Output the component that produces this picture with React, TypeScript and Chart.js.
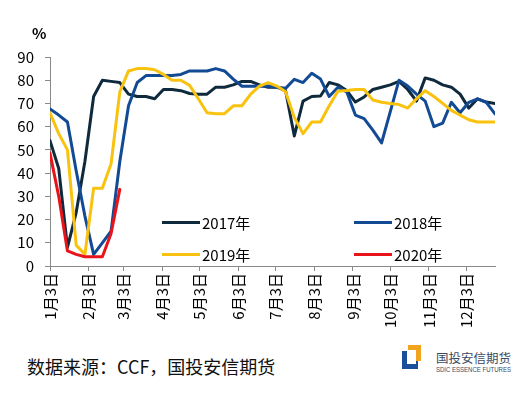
import React, { useEffect, useRef } from "react";
import { Chart, registerables } from "chart.js";

Chart.register(...registerables);

const FONT = '"Noto Sans CJK SC", "DejaVu Sans", sans-serif';

// weekly observations, starting 1月3日
const s2017 = [54, 42, 8, 23, 45, 73, 80, 79.5, 79, 74, 73, 73, 72, 76, 76, 75.5, 74.3, 74, 74, 77, 77, 78, 79.5, 79.5, 78, 77, 77, 75.5, 56, 71, 73, 73.2, 79, 78, 75.6, 70.6, 72.8, 76, 77, 78, 79.5, 76, 71, 81, 80, 78, 77, 74, 68, 72, 70.6, 70];
const s2018 = [67.6, 65, 62, 41, 21.5, 5, 10, 15, 45, 69, 79, 82, 82, 82, 82, 82.5, 84, 84, 84, 85, 84, 80.5, 77.4, 77.4, 77.4, 77.5, 77, 76.5, 80.4, 79, 83, 80.5, 73, 77, 75, 65, 63.5, 58.5, 53, 66.5, 80, 77.5, 74, 71, 60, 61.5, 70.5, 66, 70.5, 72, 70.5, 65.5];
const s2019 = [66, 57, 50, 9, 5, 33.5, 33.5, 44, 75, 84, 85, 85, 84.5, 82.5, 80, 80, 77.8, 72, 66, 65.6, 65.6, 69, 69, 74, 77.5, 79, 77.5, 75, 64, 57, 62, 62, 69, 75.3, 75.6, 76, 76, 71.5, 70.5, 70, 69.5, 68, 72, 75.5, 73, 70, 67, 65, 63, 62, 62, 62];
const s2020 = [48.6, 30, 6.5, 5, 4, 4, 4, 14, 33];

const tickLabels = ["1月3日", "2月3日", "3月3日", "4月3日", "5月3日", "6月3日", "7月3日", "8月3日", "9月3日", "10月3日", "11月3日", "12月3日"];
const tickDays = [0, 31, 59, 90, 120, 151, 181, 212, 243, 273, 304, 334];

const C17 = "#0f2a3d";
const C18 = "#124a93";
const C19 = "#f8c20f";
const C20 = "#e8141a";
const AXIS = "#898989";

const legendItems = [
  { label: "2017年", color: C17, x: 162, y: 222 },
  { label: "2018年", color: C18, x: 354, y: 222 },
  { label: "2019年", color: C19, x: 162, y: 254 },
  { label: "2020年", color: C20, x: 354, y: 254 },
];

export default function App() {
  const ref = useRef<HTMLCanvasElement>(null);

  useEffect(() => {
    const mk = (vals: number[]) => vals.map((v, i) => ({ x: i * 7, y: v }));
    const ds = (label: string, vals: number[], color: string, order: number) => ({
      label,
      data: mk(vals),
      borderColor: color,
      backgroundColor: color,
      borderWidth: 3,
      pointRadius: 0,
      fill: false,
      tension: 0,
      borderJoinStyle: "round" as const,
      borderCapStyle: "round" as const,
      order,
    });
    const gridCfg = {
      display: true,
      drawOnChartArea: false,
      drawTicks: true,
      tickLength: 5,
      color: AXIS,
      lineWidth: 1,
    };
    const chart = new Chart(ref.current!, {
      type: "line",
      data: {
        datasets: [
          ds("2017年", s2017, C17, 4),
          ds("2018年", s2018, C18, 3),
          ds("2019年", s2019, C19, 2),
          ds("2020年", s2020, C20, 1),
        ],
      },
      options: {
        animation: false,
        responsive: false,
        layout: { padding: { top: 57, right: 32, left: 0, bottom: 0 } },
        plugins: { legend: { display: false }, tooltip: { enabled: false } },
        scales: {
          x: {
            type: "linear",
            min: 0,
            max: 357,
            afterBuildTicks: (s: any) => {
              s.ticks = tickDays.map((v) => ({ value: v }));
            },
            afterFit: (s: any) => {
              s.height = 79;
            },
            ticks: {
              autoSkip: false,
              maxRotation: 90,
              minRotation: 90,
              padding: 2,
              color: "#000",
              font: { family: FONT, size: 15 },
              callback: (_v: any, i: number) => tickLabels[i],
            },
            grid: gridCfg,
            border: { color: AXIS, width: 1 },
          },
          y: {
            min: 0,
            max: 90,
            afterFit: (s: any) => {
              s.width = 50;
            },
            ticks: {
              stepSize: 10,
              padding: 11,
              color: "#000",
              font: { family: FONT, size: 15 },
            },
            grid: gridCfg,
            border: { color: AXIS, width: 1 },
          },
        },
      },
    });
    return () => chart.destroy();
  }, []);

  return (
    <div
      style={{
        position: "fixed",
        left: 0,
        top: 0,
        width: 527,
        height: 395,
        background: "#fff",
        overflow: "hidden",
        fontFamily: FONT,
      }}
    >
      <canvas ref={ref} width={527} height={345} style={{ position: "absolute", left: 0, top: 0, display: "block" }} />
      <div style={{ position: "absolute", left: 32, top: 25, fontSize: 15, lineHeight: "15px", fontWeight: "bold", color: "#000" }}>%</div>
      {legendItems.map((it) => (
        <React.Fragment key={it.label}>
          <div style={{ position: "absolute", left: it.x, top: it.y - 1.5, width: 38, height: 3, background: it.color }} />
          <div style={{ position: "absolute", left: it.x + 40, top: it.y - 7, fontSize: 15, lineHeight: "15px", color: "#000", whiteSpace: "nowrap" }}>{it.label}</div>
        </React.Fragment>
      ))}
      <div style={{ position: "absolute", left: 27, top: 357, fontSize: 18, lineHeight: "18px", color: "#111", whiteSpace: "nowrap" }}>
        数据来源：CCF，国投安信期货
      </div>
      {/* logo */}
      <div style={{ position: "absolute", left: 402, top: 351, width: 16, height: 18, background: "#1b4f9c" }} />
      <div style={{ position: "absolute", left: 408, top: 345, width: 13, height: 16, background: "#f3a41e" }} />
      <div style={{ position: "absolute", left: 407, top: 350, width: 9, height: 14, background: "#fff" }} />
      <div style={{ position: "absolute", left: 436, top: 352, fontSize: 12.5, lineHeight: "12.5px", color: "#3b4a63", whiteSpace: "nowrap" }}>
        国投安信期货
      </div>
      <div
        style={{
          position: "absolute",
          left: 436,
          top: 366,
          fontSize: 7,
          lineHeight: "7px",
          color: "#3b4a63",
          whiteSpace: "nowrap",
          fontFamily: '"Liberation Sans", sans-serif',
          transform: "scaleX(0.86)",
          transformOrigin: "left top",
        }}
      >
        SDIC ESSENCE FUTURES
      </div>
    </div>
  );
}
